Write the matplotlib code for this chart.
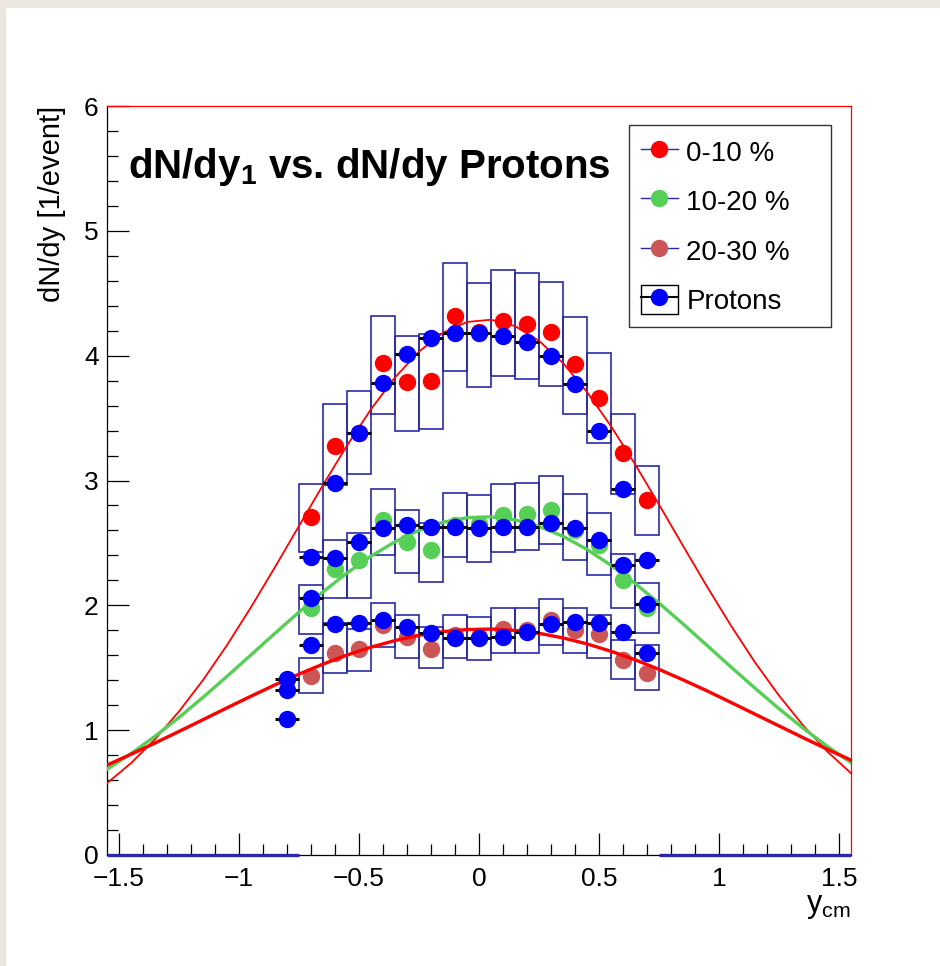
import numpy as np
import matplotlib.pyplot as plt
from matplotlib.lines import Line2D
from matplotlib.patches import Rectangle
from matplotlib.legend_handler import HandlerTuple
from matplotlib.ticker import MultipleLocator, FuncFormatter

plt.rcParams['font.family'] = ['Liberation Sans', 'DejaVu Sans']
plt.rcParams['mathtext.fontset'] = 'custom'
plt.rcParams['mathtext.rm'] = 'Liberation Sans'
plt.rcParams['mathtext.it'] = 'Liberation Sans'
plt.rcParams['mathtext.bf'] = 'Liberation Sans:bold'

# rapidity bins (bin width 0.1)
y_bins = [-0.7, -0.6, -0.5, -0.4, -0.3, -0.2, -0.1, 0.0, 0.1, 0.2, 0.3, 0.4, 0.5, 0.6, 0.7]
proton_x = [-0.8] + y_bins

# centrality classes dN/dy_1
cent_0_10 = [2.71, 3.28, 3.38, 3.94, 3.79, 3.80, 4.32, 4.19, 4.28, 4.25, 4.19, 3.93, 3.66, 3.22, 2.84]
cent_10_20 = [1.98, 2.29, 2.36, 2.68, 2.51, 2.44, 2.64, 2.65, 2.72, 2.73, 2.76, 2.60, 2.48, 2.20, 1.98]
cent_20_30 = [1.43, 1.62, 1.65, 1.84, 1.75, 1.65, 1.76, 1.75, 1.81, 1.80, 1.88, 1.80, 1.77, 1.56, 1.46]

# protons dN/dy
prot_0_10 = [1.41, 2.39, 2.98, 3.38, 3.78, 4.01, 4.14, 4.18, 4.18, 4.16, 4.11, 4.00, 3.77, 3.40, 2.93, 2.36]
prot_10_20 = [1.32, 2.06, 2.38, 2.51, 2.62, 2.64, 2.63, 2.63, 2.62, 2.63, 2.63, 2.66, 2.62, 2.52, 2.32, 2.01]
prot_20_30 = [1.09, 1.68, 1.85, 1.86, 1.88, 1.83, 1.78, 1.74, 1.74, 1.75, 1.79, 1.85, 1.87, 1.86, 1.79, 1.62]

# systematic boxes (low, high)
box_lo_0_10 = [2.43, 2.96, 3.05, 3.53, 3.40, 3.41, 3.88, 3.75, 3.84, 3.81, 3.76, 3.53, 3.30, 2.89, 2.56]
box_hi_0_10 = [2.97, 3.61, 3.72, 4.32, 4.16, 4.17, 4.74, 4.58, 4.69, 4.66, 4.59, 4.31, 4.02, 3.53, 3.12]
box_lo_10_20 = [1.77, 2.06, 2.06, 2.40, 2.26, 2.19, 2.39, 2.35, 2.43, 2.44, 2.49, 2.36, 2.24, 1.98, 1.78]
box_hi_10_20 = [2.16, 2.52, 2.58, 2.93, 2.76, 2.66, 2.90, 2.88, 2.97, 2.98, 3.04, 2.89, 2.74, 2.41, 2.18]
box_lo_20_30 = [1.30, 1.46, 1.47, 1.67, 1.58, 1.50, 1.58, 1.56, 1.62, 1.62, 1.68, 1.62, 1.58, 1.41, 1.32]
box_hi_20_30 = [1.58, 1.86, 1.81, 2.02, 1.92, 1.83, 1.92, 1.91, 1.98, 1.98, 2.05, 1.98, 1.92, 1.72, 1.68]

# fitted curves
fit_x = [-1.55, -1.45, -1.35, -1.25, -1.15, -1.05, -0.95, -0.85, -0.75, -0.65, -0.55, -0.45,
         -0.35, -0.25, -0.15, -0.05, 0.05, 0.15, 0.25, 0.35, 0.45, 0.55, 0.65, 0.75,
         0.85, 0.95, 1.05, 1.15, 1.25, 1.35, 1.45, 1.55]
fit_0_10 = [0.575, 0.736, 0.927, 1.150, 1.401, 1.681, 1.985, 2.306, 2.636, 2.964, 3.280, 3.571,
            3.826, 4.033, 4.184, 4.270, 4.288, 4.237, 4.119, 3.941, 3.709, 3.435, 3.131, 2.807,
            2.477, 2.150, 1.837, 1.543, 1.277, 1.039, 0.831, 0.655]
fit_10_20 = [0.686, 0.812, 0.951, 1.102, 1.263, 1.431, 1.603, 1.776, 1.946, 2.108, 2.259, 2.394,
             2.509, 2.601, 2.666, 2.702, 2.709, 2.685, 2.633, 2.553, 2.448, 2.321, 2.176, 2.018,
             1.851, 1.679, 1.506, 1.336, 1.172, 1.017, 0.872, 0.740]
fit_20_30 = [0.720, 0.807, 0.897, 0.990, 1.084, 1.179, 1.272, 1.363, 1.449, 1.529, 1.602, 1.665,
             1.718, 1.760, 1.790, 1.806, 1.810, 1.799, 1.776, 1.739, 1.691, 1.632, 1.564, 1.487,
             1.403, 1.315, 1.222, 1.128, 1.034, 0.940, 0.848, 0.760]

labels = ['0-10 %', '10-20 %', '20-30 %', 'Protons']
colors = ['#ff0000', '#55cf55', '#cc5656']
box_color = '#2a2aa8'
bin_w = 0.1
ms = 11.5
xmin, xmax = -1.55, 1.55

fig = plt.figure(figsize=(9.4, 9.66), dpi=100)
fig.patch.set_facecolor('#ebe7de')
fig.patches.append(Rectangle((6 / 940, 0), 1, 1 - 8 / 966, transform=fig.transFigure,
                             facecolor='white', edgecolor='none', zorder=-10))
ax = fig.add_axes([107 / 940, 111 / 966, 744 / 940, 749 / 966])

bins = np.array(y_bins)
boxes = [(box_lo_0_10, box_hi_0_10), (box_lo_10_20, box_hi_10_20), (box_lo_20_30, box_hi_20_30)]
for lo, hi in boxes:
    lo = np.array(lo)
    hi = np.array(hi)
    ax.bar(bins, hi - lo, width=bin_w, bottom=lo, fill=False, edgecolor=box_color,
           linewidth=1.2, zorder=2)

# empty bins outside the measured range
ax.hlines(0, xmin, bins[0] - bin_w / 2, color=box_color, lw=2.4, zorder=5, clip_on=False)
ax.hlines(0, bins[-1] + bin_w / 2, xmax, color=box_color, lw=2.4, zorder=5, clip_on=False)

for vals, c in zip([cent_0_10, cent_10_20, cent_20_30], colors):
    ax.plot(y_bins, vals, 'o', ms=ms, color=c, mec=c, zorder=3)

ax.plot(fit_x, fit_0_10, color='#ff0000', lw=1.3, zorder=4)
ax.plot(fit_x, fit_10_20, color='#55cf55', lw=2.4, zorder=4)
ax.plot(fit_x, fit_20_30, color='#ff0000', lw=2.4, zorder=4)

for vals in [prot_0_10, prot_10_20, prot_20_30]:
    ax.errorbar(proton_x, vals, xerr=bin_w / 2, fmt='o', ms=ms, color='#0000ff', mec='#0000ff',
                ecolor='black', elinewidth=2.2, capsize=0, zorder=6)

ax.set_xlim(xmin, xmax)
ax.set_ylim(0, 6)
ax.xaxis.set_major_locator(MultipleLocator(0.5))
ax.xaxis.set_minor_locator(MultipleLocator(0.1))
ax.yaxis.set_major_locator(MultipleLocator(1))
ax.yaxis.set_minor_locator(MultipleLocator(0.2))
ax.xaxis.set_major_formatter(FuncFormatter(lambda v, p: ('%g' % v).replace('-', '\u2212')))
ax.tick_params(which='both', direction='in', top=False, right=False, width=0.9, labelsize=19)
ax.tick_params(which='major', length=16)
ax.tick_params(which='minor', length=8)
ax.tick_params(axis='x', pad=9)
ax.tick_params(axis='y', pad=6)
for s in ['top', 'right']:
    ax.spines[s].set_color('red')
for s in ax.spines.values():
    s.set_linewidth(0.9)

ax.text(0.028, 0.904, r'dN/dy$_\mathbf{1}$ vs. dN/dy Protons', transform=ax.transAxes,
        fontsize=29, fontweight='bold', ha='left', va='baseline')
ax.text(-0.074, 1.0, 'dN/dy [1/event]', transform=ax.transAxes, rotation=90,
        fontsize=21, ha='center', va='top')
ax.text(1.0, -0.048, r'y$_{\rm cm}$', transform=ax.transAxes, fontsize=22,
        ha='right', va='top')

handles = [Line2D([], [], color=box_color, lw=1, marker='o', ms=ms, mfc=c, mec=c) for c in colors]
handles.append((Rectangle((0, 0), 1, 1, fill=False, edgecolor='black', lw=1),
                Line2D([], [], color='black', lw=1.5, marker='o', ms=ms, mfc='#0000ff', mec='#0000ff')))
leg = ax.legend(handles, labels, loc='upper left', bbox_to_anchor=(0.7016, 0.713, 0.2715, 0.2616),
                mode='expand', borderaxespad=0, fontsize=20, handlelength=1.35, handleheight=1.25,
                handletextpad=0.3, labelspacing=0.7, borderpad=0.42, fancybox=False,
                framealpha=1, edgecolor='#333333',
                handler_map={tuple: HandlerTuple(ndivide=1)})
leg.get_frame().set_linewidth(1.0)
leg.set_zorder(10)

fig.savefig('out.png', dpi=100, facecolor=fig.get_facecolor())
